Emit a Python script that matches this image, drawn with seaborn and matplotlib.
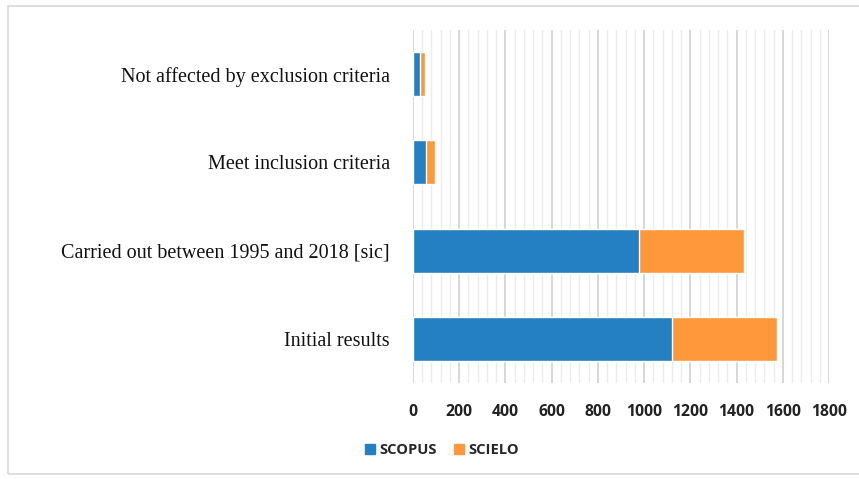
import numpy as np
import pandas as pd
import matplotlib
matplotlib.use("Agg")
import matplotlib.pyplot as plt
import seaborn as sns
from matplotlib.patches import Patch, Rectangle
from matplotlib.ticker import MultipleLocator

# datos
categorias = ["Not affected by exclusion criteria",
              "Meet inclusion criteria",
              "Carried out between 1995 and 2018 [sic]",
              "Initial results"]
scopus = [30, 55, 978, 1120]
scielo = [22, 40, 453, 455]
ticks_x = [0, 200, 400, 600, 800, 1000, 1200, 1400, 1600, 1800]

azul = "#2480C2"
naranja = "#FF983A"

df = pd.DataFrame({"cat": categorias, "SCOPUS": scopus, "SCIELO": scielo})
df["total"] = df["SCOPUS"] + df["SCIELO"]

sns.set_style("white")
fig = plt.figure(figsize=(8.59, 4.79), dpi=100)
ax = fig.add_axes([413 / 859, 1 - 383 / 479, (829 - 413) / 859, (383 - 30) / 479])

# barras apiladas: primero el total (naranja), luego SCOPUS encima
sns.barplot(data=df, x="total", y="cat", color=naranja, width=0.5,
            saturation=1, ax=ax, zorder=3)
sns.barplot(data=df, x="SCOPUS", y="cat", color=azul, width=0.5,
            saturation=1, ax=ax, zorder=4)

ax.set_xlim(0, 1800)
ax.set_xticks(ticks_x)
ax.xaxis.set_minor_locator(MultipleLocator(40))
ax.grid(axis="x", which="major", color="#d4d4d4", lw=1.3, zorder=0)
ax.grid(axis="x", which="minor", color="#ececec", lw=1.0, zorder=0)
ax.set_axisbelow(True)
for s in ax.spines.values():
    s.set_visible(False)
ax.set_xlabel("")
ax.set_ylabel("")
ax.tick_params(axis="x", which="both", length=0, pad=15)
ax.tick_params(axis="y", length=0, pad=16.5)
for t in ax.get_xticklabels():
    t.set_fontfamily("Open Sans")
    t.set_fontweight("bold")
    t.set_fontsize(11.3)
    t.set_color("#222222")
for t in ax.get_yticklabels():
    t.set_fontfamily("Liberation Serif")
    t.set_fontsize(14.5)
    t.set_color("#111111")

# leyenda abajo
handles = [Patch(color=azul, label="SCOPUS"), Patch(color=naranja, label="SCIELO")]
leg = fig.legend(handles=handles, loc="center", bbox_to_anchor=(0.5146, 1 - 450 / 479),
                 ncol=2, frameon=False, handlelength=0.65, handleheight=0.65,
                 handletextpad=0.3, columnspacing=1.2,
                 prop={"family": "Open Sans", "weight": "bold", "size": 10.6})

# marco del gráfico
fig.patches.append(Rectangle((8 / 859, 0.01), 1.0, 1 - 6 / 479 - 0.01,
                             transform=fig.transFigure, fill=False,
                             edgecolor="#d8d8d8", lw=1.2))

fig.savefig("out.png", dpi=100)
